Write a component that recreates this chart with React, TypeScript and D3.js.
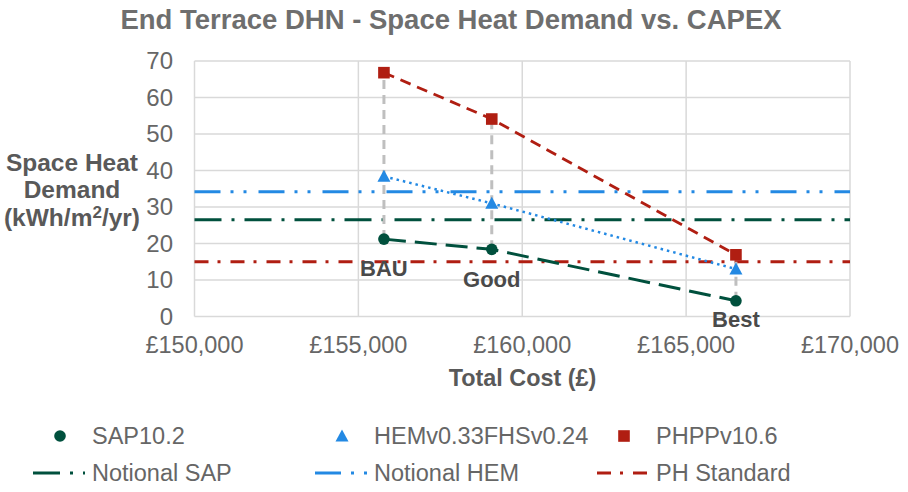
import React from "react";
import * as d3 from "d3";

const options = ["BAU", "Good", "Best"];
const totalCost = [155780, 159070, 166520];
const sap = [21.2, 18.4, 4.3];
const hem = [38.4, 31.0, 13.0];
const phpp = [66.8, 54.1, 16.9];

const notionalSap = 26.5;
const notionalHem = 34.2;
const phStandard = 15;

const xTicks = [150000, 155000, 160000, 165000, 170000];
const yTicks = [0, 10, 20, 30, 40, 50, 60, 70];

const GREEN = "#00503d";
const BLUE = "#2389e3";
const RED = "#b01e12";
const GREY = "#bfbfbf";
const TEXT = "#595959";
const FONT = "'Liberation Sans', Arial, sans-serif";

const W = 908;
const H = 492;
const margin = { top: 61, right: 58, bottom: 175.5, left: 194.5 };

const fmtCost = (v: number) => "£" + d3.format(",")(v);

export default function App() {
  const x = d3.scaleLinear().domain([150000, 170000]).range([margin.left, W - margin.right]);
  const y = d3.scaleLinear().domain([0, 70]).range([H - margin.bottom, margin.top]);

  const seriesLine = d3.line<number>().x((_, i) => x(totalCost[i])).y((d) => y(d));
  const [x0, x1] = x.range();

  // label nudges below the SAP points (Best sits lower, near the axis)
  const labelDy = [29, 30, 18];

  const legendRows = [
    [
      { name: "SAP10.2", kind: "circle", color: GREEN },
      { name: "HEMv0.33FHSv0.24", kind: "triangle", color: BLUE },
      { name: "PHPPv10.6", kind: "square", color: RED },
    ],
    [
      { name: "Notional SAP", kind: "line", color: GREEN, dash: "27 10 3 10" },
      { name: "Notional HEM", kind: "line", color: BLUE, dash: "26 10 3 10 3 12" },
      { name: "PH Standard", kind: "line", color: RED, dash: "14 9 3 10" },
    ],
  ];

  const marker = (kind: string, cx: number, cy: number, color: string, key?: string) => {
    if (kind === "circle") return <circle key={key} cx={cx} cy={cy} r={5.8} fill={color} />;
    if (kind === "triangle")
      return (
        <path
          key={key}
          d={`M${cx},${cy - 6.5} L${cx + 6.5},${cy + 5.5} L${cx - 6.5},${cy + 5.5} Z`}
          fill={color}
        />
      );
    return <rect key={key} x={cx - 5.8} y={cy - 5.8} width={11.6} height={11.6} fill={color} />;
  };

  return (
    <svg
      width={W}
      height={H}
      style={{ position: "absolute", left: 0, top: 0, background: "#fff" }}
      fontFamily={FONT}
    >
      <text x={451} y={19} dy="0.35em" textAnchor="middle" fontSize={27.5} fontWeight="bold" fill="#6e6e6e">
        End Terrace DHN - Space Heat Demand vs. CAPEX
      </text>

      {/* grid */}
      {yTicks.map((t) => (
        <line key={"gy" + t} x1={x0} x2={x1} y1={y(t)} y2={y(t)} stroke="#d9d9d9" strokeWidth={1.5} />
      ))}
      {xTicks.map((t) => (
        <line key={"gx" + t} x1={x(t)} x2={x(t)} y1={y(0)} y2={y(70)} stroke="#d9d9d9" strokeWidth={1.5} />
      ))}

      {/* tick labels */}
      {yTicks.map((t) => (
        <text key={"ty" + t} x={173} y={y(t)} dy="0.35em" textAnchor="end" fontSize={24} fill="#666">
          {t}
        </text>
      ))}
      {xTicks.map((t) => (
        <text key={"tx" + t} x={x(t)} y={345} dy="0.35em" textAnchor="middle" fontSize={23.5} fill="#666">
          {fmtCost(t)}
        </text>
      ))}

      {/* axis titles */}
      <text x={522.5} y={378} dy="0.35em" textAnchor="middle" fontSize={23.4} fontWeight="bold" fill={TEXT}>
        Total Cost (£)
      </text>
      <text textAnchor="middle" fontSize={24.5} fontWeight="bold" fill={TEXT}>
        <tspan x={72} y={162} dy="0.35em">Space Heat</tspan>
        <tspan x={72} y={189} dy="0.35em">Demand</tspan>
        <tspan x={72} y={217} dy="0.35em">
          (kWh/m<tspan dy="-8" fontSize={17}>2</tspan>
          <tspan dy="8">/yr)</tspan>
        </tspan>
      </text>

      {/* reference lines */}
      <line x1={x0} x2={x1} y1={y(notionalSap)} y2={y(notionalSap)} stroke={GREEN} strokeWidth={3} strokeDasharray="27 10 3 10" />
      <line x1={x0} x2={x1} y1={y(notionalHem)} y2={y(notionalHem)} stroke={BLUE} strokeWidth={3} strokeDasharray="26 10 3 10 3 12" />
      <line x1={x0} x2={x1} y1={y(phStandard)} y2={y(phStandard)} stroke={RED} strokeWidth={3} strokeDasharray="14 9 3 10" />

      {/* drop lines */}
      {totalCost.map((c, i) => (
        <line
          key={"drop" + i}
          x1={x(c)}
          x2={x(c)}
          y1={y(sap[i])}
          y2={y(phpp[i])}
          stroke={GREY}
          strokeWidth={3}
          strokeDasharray="9 6"
        />
      ))}

      {/* series lines */}
      <path d={seriesLine(sap) ?? ""} fill="none" stroke={GREEN} strokeWidth={3} strokeDasharray="22 9" />
      <path d={seriesLine(hem) ?? ""} fill="none" stroke={BLUE} strokeWidth={2.5} strokeDasharray="2.5 4" />
      <path d={seriesLine(phpp) ?? ""} fill="none" stroke={RED} strokeWidth={2.75} strokeDasharray="11 7" />

      {/* markers */}
      {totalCost.map((c, i) => marker("square", x(c), y(phpp[i]), RED, "m-p" + i))}
      {totalCost.map((c, i) => marker("triangle", x(c), y(hem[i]), BLUE, "m-h" + i))}
      {totalCost.map((c, i) => marker("circle", x(c), y(sap[i]), GREEN, "m-s" + i))}

      {/* option labels */}
      {options.map((o, i) => (
        <text
          key={o}
          x={x(totalCost[i])}
          y={y(sap[i]) + labelDy[i]}
          dy="0.35em"
          textAnchor="middle"
          fontSize={22}
          fontWeight="bold"
          fill="#4a4a4a"
        >
          {o}
        </text>
      ))}

      {/* legend */}
      {legendRows.map((row, r) =>
        row.map((item, c) => {
          const lx = 33 + c * 282;
          const ly = r === 0 ? 436 : 473;
          return (
            <g key={item.name}>
              {item.kind === "line" ? (
                <line x1={lx} x2={lx + 52} y1={ly} y2={ly} stroke={item.color} strokeWidth={3} strokeDasharray={item.dash} />
              ) : (
                marker(item.kind, lx + 27, ly, item.color)
              )}
              <text x={lx + 59} y={ly} dy="0.35em" fontSize={23.5} fill="#666">
                {item.name}
              </text>
            </g>
          );
        })
      )}
    </svg>
  );
}
